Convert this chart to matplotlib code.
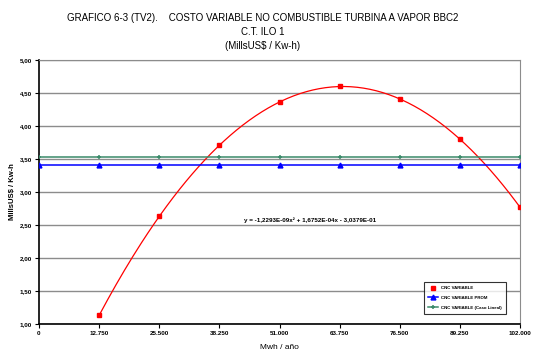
import numpy as np
import matplotlib
matplotlib.use("Agg")
from matplotlib import pyplot as plt
from matplotlib.ticker import FuncFormatter

plt.rcParams['font.family'] = ['Liberation Sans', 'DejaVu Sans']

# data
mwh_points = [12750, 25500, 38250, 51000, 63750, 76500, 89250, 102000]
cvnc_variable = [1.13, 2.63, 3.71, 4.36, 4.60, 4.41, 3.80, 2.77]
mwh_all = [0, 12750, 25500, 38250, 51000, 63750, 76500, 89250, 102000]
cvnc_prom = [3.41] * 9
cvnc_lineal = [3.53] * 9
x_ticks = [0, 12750, 25500, 38250, 51000, 63750, 76500, 89250, 102000]
x_tick_labels = ["0", "12.750", "25.500", "38.250", "51.000", "63.750", "76.500", "89.250", "102.000"]
equation = "y = -1,2293E-09x² + 1,6752E-04x - 3,0379E-01"

fig = plt.figure(figsize=(5.4, 3.6), dpi=100)
ax = fig.add_axes([39 / 540, 1 - 324 / 360, (520 - 39) / 540, (324 - 60) / 360])

# polynomial trend line (order 2) fitted on the red points
coef = np.polyfit(mwh_points, cvnc_variable, 2)
xs = np.linspace(mwh_points[0], mwh_points[-1], 200)
ax.plot(xs, np.polyval(coef, xs), color='red', lw=0.9, zorder=3)

ax.plot(mwh_points, cvnc_variable, ls='none', marker='s', ms=3, color='red',
        label="CNC VARIABLE", zorder=4)
ax.plot(mwh_all, cvnc_prom, color='blue', lw=1.1, marker='^', ms=3.5,
        label="CNC VARIABLE PROM", zorder=3)
ax.plot(mwh_all, cvnc_lineal, color='#3a8a6a', lw=1.1, marker='+', ms=3.5, mew=1.1,
        label="CNC VARIABLE (Caso Lineal)", zorder=3)

ax.set_xlim(0, 102000)
ax.set_ylim(1, 5)
ax.set_xticks(x_ticks)
ax.set_xticklabels(x_tick_labels)
ax.set_yticks(np.arange(1, 5.01, 0.5))
ax.yaxis.set_major_formatter(FuncFormatter(lambda v, p: f"{v:.2f}".replace('.', ',')))
ax.tick_params(labelsize=4.5, length=3, width=0.8, direction='out', pad=2)
for lab in ax.get_xticklabels() + ax.get_yticklabels():
    lab.set_fontweight('bold')

ax.grid(axis='y', color='#8c8c8c', lw=1)
ax.set_axisbelow(True)
for side in ('left', 'bottom'):
    ax.spines[side].set_color('black')
    ax.spines[side].set_linewidth(1.2)
for side in ('top', 'right'):
    ax.spines[side].set_color('#8c8c8c')

ax.set_xlabel("Mwh / año", fontsize=6, labelpad=6)
ax.set_ylabel("MillsUS$ / Kw-h", fontsize=5.5, fontweight='bold', labelpad=3)

ax.text(57500, 2.58, equation, fontsize=4.5, fontweight='bold', ha='center', va='center')

leg = ax.legend(loc='lower right', bbox_to_anchor=(0.975, 0.03), fontsize=3.2,
                frameon=True, fancybox=False, edgecolor='black', borderpad=0.9,
                handlelength=2.4, labelspacing=1.3, handletextpad=0.6)
leg.get_frame().set_linewidth(0.8)
for t in leg.get_texts():
    t.set_fontweight('bold')

fig.text(263 / 540, 1 - 18 / 360,
         "GRAFICO 6-3 (TV2).    COSTO VARIABLE NO COMBUSTIBLE TURBINA A VAPOR BBC2",
         ha='center', va='center', fontsize=7)
fig.text(263 / 540, 1 - 32 / 360, "C.T. ILO 1", ha='center', va='center', fontsize=7)
fig.text(263 / 540, 1 - 46 / 360, "(MillsUS$ / Kw-h)", ha='center', va='center', fontsize=7)

fig.savefig("out.png", dpi=100)
